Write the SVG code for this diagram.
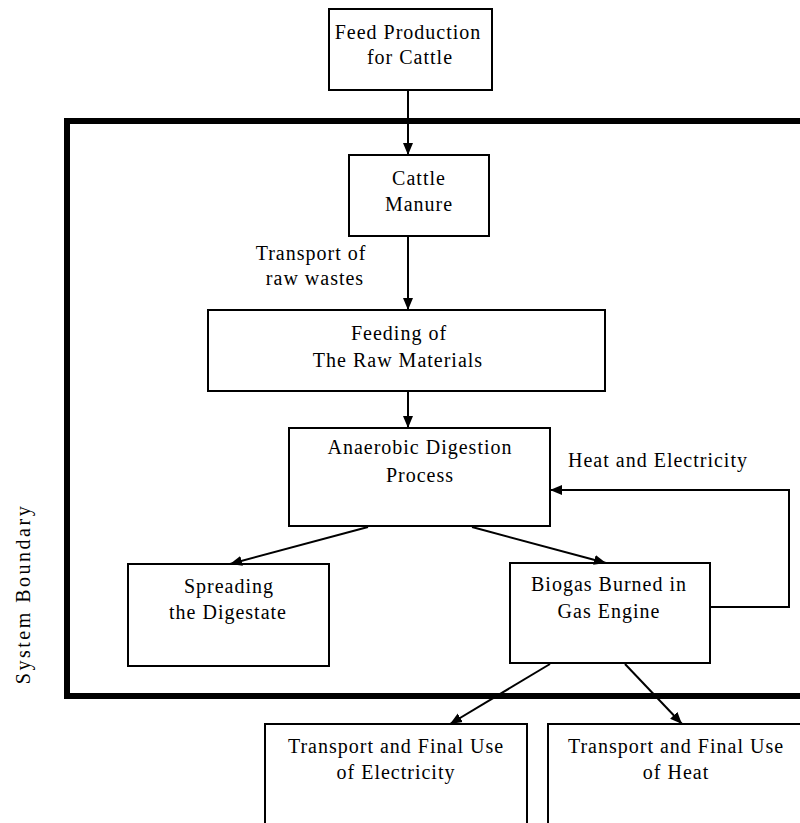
<svg xmlns="http://www.w3.org/2000/svg" width="800" height="823" viewBox="0 0 800 823">
<defs>
<marker id="ah" markerUnits="userSpaceOnUse" markerWidth="14" markerHeight="12" refX="12" refY="6" orient="auto">
<path d="M0,1 L12,6 L0,11 Z" fill="#000"/>
</marker>
<style>
.box{fill:#fff;stroke:#000;stroke-width:2}
.t{font-family:"Liberation Serif","Times New Roman",serif;font-size:20px;fill:#000;text-anchor:middle;letter-spacing:1px}
.c{fill:none;stroke:#000;stroke-width:2}
</style>
</defs>
<rect width="800" height="823" fill="#fff"/>
<g id="boundary">
<rect x="67" y="121" width="760" height="575" fill="none" stroke="#000" stroke-width="6"/>
<text class="t" transform="translate(30,594) rotate(-90)" style="letter-spacing:2.5px">System Boundary</text>
</g>
<g id="feed">
<rect class="box" x="329" y="9" width="163" height="81"/>
<text class="t" x="408" y="39">Feed Production</text>
<text class="t" x="410" y="64">for Cattle</text>
</g>
<g id="manure">
<rect class="box" x="349" y="155" width="140" height="81"/>
<text class="t" x="419" y="185">Cattle</text>
<text class="t" x="419" y="211">Manure</text>
</g>
<g id="feeding">
<rect class="box" x="208" y="310" width="397" height="81"/>
<text class="t" x="399" y="340">Feeding of</text>
<text class="t" x="398" y="367">The Raw Materials</text>
</g>
<g id="digestion">
<rect class="box" x="289" y="428" width="261" height="98"/>
<text class="t" x="420" y="454">Anaerobic Digestion</text>
<text class="t" x="420" y="482">Process</text>
</g>
<g id="spreading">
<rect class="box" x="128" y="564" width="201" height="102"/>
<text class="t" x="229" y="593">Spreading</text>
<text class="t" x="228" y="619">the Digestate</text>
</g>
<g id="biogas">
<rect class="box" x="510" y="563" width="200" height="100"/>
<text class="t" x="609" y="591">Biogas Burned in</text>
<text class="t" x="609" y="618">Gas Engine</text>
</g>
<g id="electricity">
<rect class="box" x="265" y="724" width="262" height="110"/>
<text class="t" x="396" y="753">Transport and Final Use</text>
<text class="t" x="396" y="779">of Electricity</text>
</g>
<g id="heat">
<rect class="box" x="548" y="724" width="270" height="110"/>
<text class="t" x="676" y="753">Transport and Final Use</text>
<text class="t" x="676" y="779">of Heat</text>
</g>
<g id="connectors">
<line class="c" x1="408" y1="90" x2="408" y2="155" marker-end="url(#ah)"/>
<line class="c" x1="408" y1="236" x2="408" y2="310" marker-end="url(#ah)"/>
<line class="c" x1="408" y1="391" x2="408" y2="428" marker-end="url(#ah)"/>
<line class="c" x1="368" y1="527" x2="230" y2="564" marker-end="url(#ah)"/>
<line class="c" x1="472" y1="527" x2="606" y2="563" marker-end="url(#ah)"/>
<polyline class="c" points="710,607 789,607 789,490 550,490" marker-end="url(#ah)"/>
<line class="c" x1="550" y1="664" x2="450" y2="724" marker-end="url(#ah)"/>
<line class="c" x1="625" y1="664" x2="682" y2="724" marker-end="url(#ah)"/>
<text class="t" x="311" y="260">Transport of</text>
<text class="t" x="315" y="285">raw wastes</text>
<text class="t" x="658" y="467">Heat and Electricity</text>
</g>
</svg>
